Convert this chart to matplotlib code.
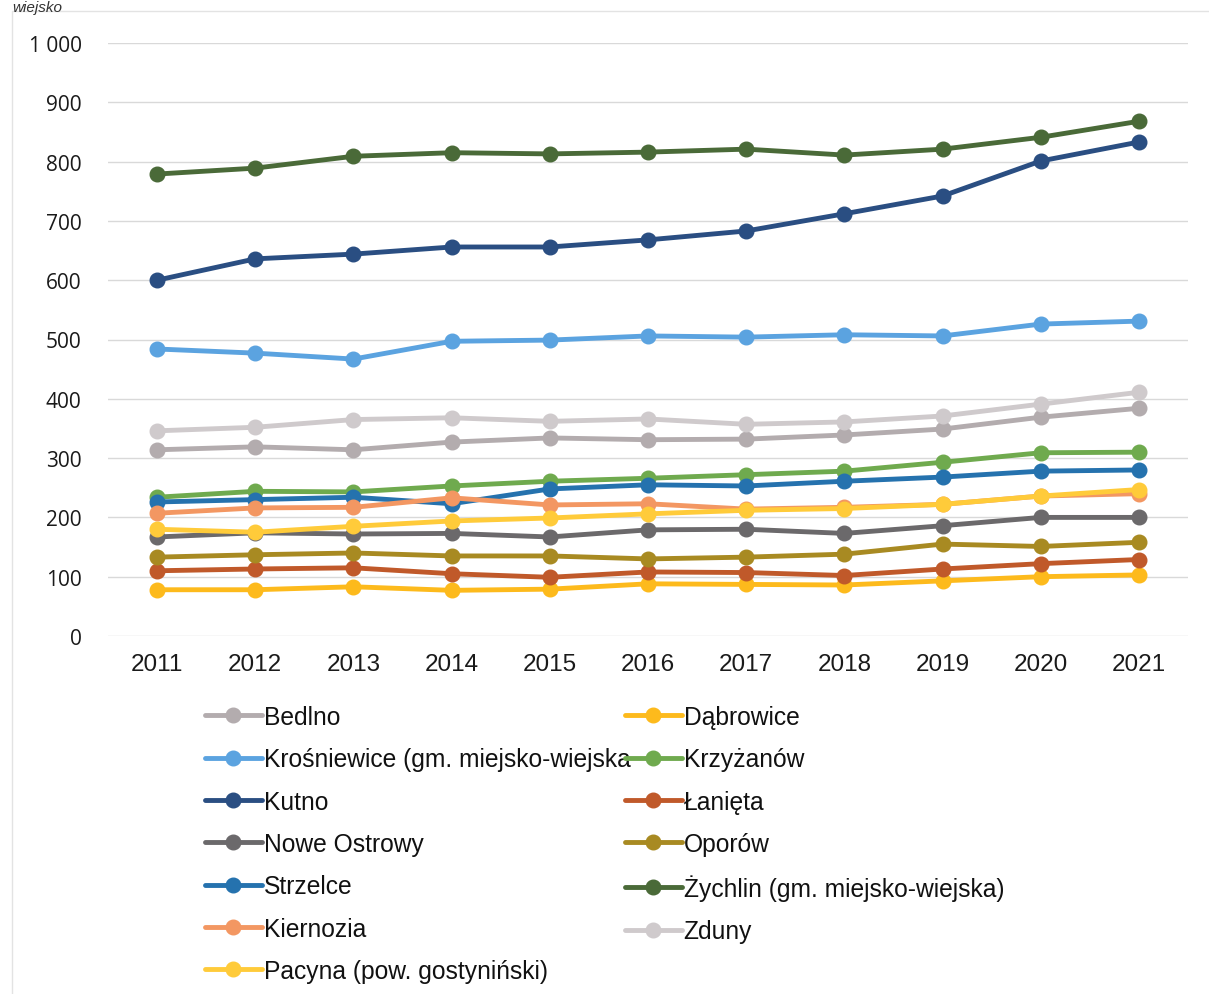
import matplotlib
matplotlib.use("Agg")
import matplotlib.pyplot as plt
from matplotlib.patches import Rectangle

years = ["2011", "2012", "2013", "2014", "2015", "2016", "2017", "2018", "2019", "2020", "2021"]

bedlno = [314, 319, 314, 327, 334, 331, 332, 339, 349, 369, 384]
dabrowice = [78, 78, 83, 77, 79, 88, 87, 86, 93, 100, 103]
krosniewice = [484, 477, 467, 497, 499, 506, 504, 508, 506, 526, 531]
krzyzanow = [234, 244, 243, 253, 261, 266, 272, 278, 293, 309, 310]
kutno = [600, 636, 644, 656, 656, 668, 683, 712, 742, 801, 833]
lanieta = [110, 113, 115, 105, 99, 108, 107, 102, 113, 122, 129]
nowe_ostrowy = [167, 174, 172, 173, 167, 179, 180, 173, 186, 200, 200]
oporow = [133, 137, 140, 135, 135, 130, 133, 138, 155, 151, 158]
strzelce = [226, 230, 234, 223, 248, 255, 253, 261, 268, 278, 280]
zychlin = [779, 789, 809, 815, 813, 816, 821, 811, 821, 841, 868]
kiernozia = [207, 216, 217, 233, 221, 223, 214, 217, 222, 236, 240]
zduny = [346, 352, 365, 368, 362, 366, 357, 361, 371, 391, 411]
pacyna = [180, 175, 185, 194, 199, 206, 212, 215, 222, 236, 247]

labels = ["Bedlno", "Dąbrowice", "Krośniewice (gm. miejsko-wiejska", "Krzyżanów",
          "Kutno", "Łanięta", "Nowe Ostrowy", "Oporów", "Strzelce",
          "Żychlin (gm. miejsko-wiejska)", "Kiernozia", "Zduny", "Pacyna (pow. gostyniński)"]
series = [bedlno, dabrowice, krosniewice, krzyzanow, kutno, lanieta, nowe_ostrowy,
          oporow, strzelce, zychlin, kiernozia, zduny, pacyna]
colors = ["#B3ACAE", "#FDBA1C", "#5BA3E0", "#6FAA4E", "#2A4E82", "#C0592A", "#6B696B",
          "#A88A22", "#2572AE", "#4A6A38", "#F39762", "#CFCACC", "#FFCB3A"]

yticks = [0, 100, 200, 300, 400, 500, 600, 700, 800, 900, 1000]
ytick_labels = ["0", "100", "200", "300", "400", "500", "600", "700", "800", "900", "1 000"]

W, H = 1209, 995
fig = plt.figure(figsize=(W / 100, H / 100), dpi=100)
ax = fig.add_axes([108 / W, 1 - 637 / H, (1188 - 108) / W, (637 - 44) / H])

x = list(range(len(years)))
handles = []
for vals, col, lab in zip(series, colors, labels):
    h, = ax.plot(x, vals, color=col, lw=3.5, marker="o", ms=10.5, label=lab,
                 solid_capstyle="round", zorder=3)
    handles.append(h)

ax.set_xlim(-0.5, len(years) - 0.5)
ax.set_ylim(0, 1000)
ax.set_yticks(yticks)
ax.set_yticklabels(ytick_labels, family="Open Sans", fontsize=15, color="#1A1A1A")
ax.set_xticks(x)
ax.set_xticklabels(years, family="Liberation Sans", fontsize=17.5, color="#1A1A1A")
ax.tick_params(axis="y", length=0, pad=19)
ax.tick_params(axis="x", length=0, pad=12)
for s in ax.spines.values():
    s.set_visible(False)
ax.grid(axis="y", color="#D9D9D9", lw=1)
ax.set_axisbelow(True)

# chart-area border
fig.patches.append(Rectangle((12 / W, -0.01), 1.02, 1 - 12 / H + 0.01, transform=fig.transFigure,
                             fill=False, edgecolor="#E3E3E3", lw=1))

# title fragment at top
fig.text(12 / W, 1 - 1 / H, "wiejsko", family="Liberation Sans", style="italic",
         fontsize=11, color="#333333", va="top", ha="left")

order1 = [0, 2, 4, 6, 8, 10, 12]
order2 = [1, 3, 5, 7, 9, 11]
leg_kw = dict(frameon=False, handlelength=2.3, handletextpad=0.08, labelspacing=0.745,
              prop={"family": "Liberation Sans", "size": 17.7}, borderpad=0, borderaxespad=0)
leg1 = fig.legend([handles[i] for i in order1], [labels[i] for i in order1],
                  loc="upper left", bbox_to_anchor=(205 / W, 1 - 706 / H), **leg_kw)
leg2 = fig.legend([handles[i] for i in order2], [labels[i] for i in order2],
                  loc="upper left", bbox_to_anchor=(625 / W, 1 - 706 / H), **leg_kw)
for lg in (leg1, leg2):
    for t in lg.get_texts():
        t.set_color("#111111")

fig.savefig("out.png", dpi=100)
